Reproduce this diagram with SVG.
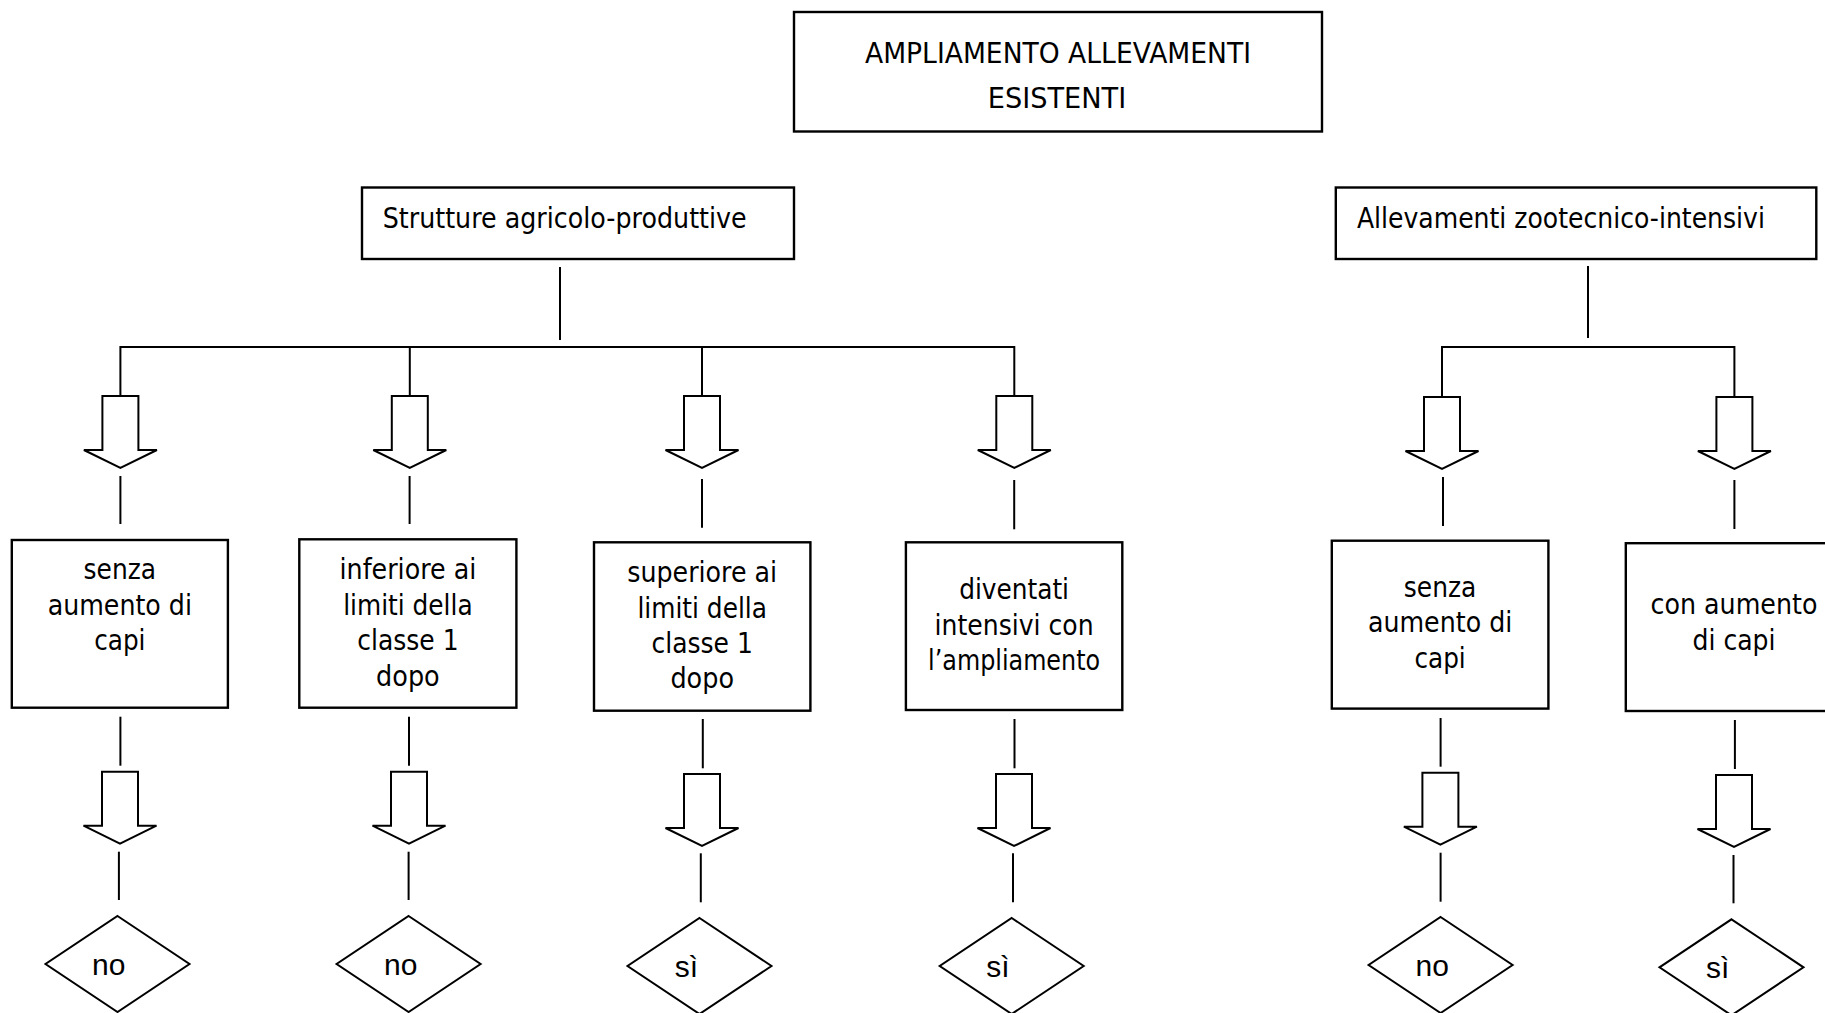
<svg xmlns="http://www.w3.org/2000/svg" xmlns:xlink="http://www.w3.org/1999/xlink" width="1825" height="1013" viewBox="0 0 1825 1013">
<style>
.box{fill:#fff;stroke:#000;stroke-width:2.4}
.ln{stroke:#000;stroke-width:2;fill:none}
.ar{fill:#fff;stroke:#000;stroke-width:2;stroke-linejoin:miter}
.dm{fill:#fff;stroke:#000;stroke-width:2}
.t{font-family:"DejaVu Sans","Liberation Sans",sans-serif;font-size:29px;fill:#000}
.c{text-anchor:middle}
.d{font-family:"Liberation Sans",Arial,sans-serif;font-size:30px;fill:#000}
</style>
<defs>
<path id="arrow" class="ar" d="M-18,0 H18 V54 H36.5 L0,72 L-36.5,54 H-18 Z"/>
<polygon id="diam" class="dm" points="0,-48 72,0 0,48 -72,0"/>
</defs>
<rect width="1825" height="1013" fill="#fff"/>

<g id="connectors">
<line class="ln" x1="560" y1="267" x2="560" y2="340"/>
<polyline class="ln" points="120.4,396 120.4,347 1014.3,347 1014.3,396"/>
<line class="ln" x1="409.8" y1="347" x2="409.8" y2="396"/>
<line class="ln" x1="702" y1="347" x2="702" y2="396"/>
<line class="ln" x1="1588" y1="266" x2="1588" y2="338"/>
<polyline class="ln" points="1442,397 1442,347 1734.4,347 1734.4,397"/>

<use xlink:href="#arrow" transform="translate(120.4,396)"/>
<use xlink:href="#arrow" transform="translate(409.8,396)"/>
<use xlink:href="#arrow" transform="translate(702,396)"/>
<use xlink:href="#arrow" transform="translate(1014.3,396)"/>
<use xlink:href="#arrow" transform="translate(1442,397)"/>
<use xlink:href="#arrow" transform="translate(1734.4,397)"/>

<line class="ln" x1="120.4" y1="476" x2="120.4" y2="524"/>
<line class="ln" x1="409.6" y1="476" x2="409.6" y2="524"/>
<line class="ln" x1="702" y1="479" x2="702" y2="527.7"/>
<line class="ln" x1="1014.2" y1="480" x2="1014.2" y2="529.3"/>
<line class="ln" x1="1443" y1="477" x2="1443" y2="526"/>
<line class="ln" x1="1734.4" y1="480" x2="1734.4" y2="529"/>

<line class="ln" x1="120.4" y1="716.7" x2="120.4" y2="765.7"/>
<line class="ln" x1="409" y1="716.7" x2="409" y2="765.7"/>
<line class="ln" x1="702.8" y1="719" x2="702.8" y2="768.3"/>
<line class="ln" x1="1014.5" y1="719" x2="1014.5" y2="768.3"/>
<line class="ln" x1="1440.6" y1="718" x2="1440.6" y2="766.7"/>
<line class="ln" x1="1734.9" y1="720" x2="1734.9" y2="769"/>

<use xlink:href="#arrow" transform="translate(120,771.7)"/>
<use xlink:href="#arrow" transform="translate(409,771.7)"/>
<use xlink:href="#arrow" transform="translate(702,774)"/>
<use xlink:href="#arrow" transform="translate(1014,774)"/>
<use xlink:href="#arrow" transform="translate(1440.4,772.7)"/>
<use xlink:href="#arrow" transform="translate(1734,775)"/>

<line class="ln" x1="118.9" y1="851.7" x2="118.9" y2="900"/>
<line class="ln" x1="408.6" y1="851.7" x2="408.6" y2="900"/>
<line class="ln" x1="700.8" y1="853.3" x2="700.8" y2="902.3"/>
<line class="ln" x1="1013" y1="853.3" x2="1013" y2="902.3"/>
<line class="ln" x1="1440.6" y1="852.7" x2="1440.6" y2="901.7"/>
<line class="ln" x1="1733.5" y1="855" x2="1733.5" y2="903.3"/>
</g>

<g id="title">
<rect class="box" x="794" y="12" width="528" height="119.5"/>
<text class="t c" x="1058" y="62.7" textLength="386" lengthAdjust="spacingAndGlyphs">AMPLIAMENTO ALLEVAMENTI</text>
<text class="t c" x="1057" y="108.3" textLength="138.5" lengthAdjust="spacingAndGlyphs">ESISTENTI</text>
</g>

<g id="strutture">
<rect class="box" x="362" y="187.5" width="432" height="71.5"/>
<text class="t" x="382.7" y="228.3" textLength="364" lengthAdjust="spacingAndGlyphs">Strutture agricolo-produttive</text>
</g>

<g id="allevamenti">
<rect class="box" x="1335.8" y="187.5" width="480.5" height="71.5"/>
<text class="t" x="1356.9" y="228.3" textLength="408" lengthAdjust="spacingAndGlyphs">Allevamenti zootecnico-intensivi</text>
</g>

<g id="box1">
<rect class="box" x="11.8" y="540" width="216.1" height="167.7"/>
<text class="t c" x="119.8" y="579.3" textLength="72.5" lengthAdjust="spacingAndGlyphs">senza</text>
<text class="t c" x="119.8" y="614.6" textLength="144.3" lengthAdjust="spacingAndGlyphs">aumento di</text>
<text class="t c" x="119.8" y="650.3" textLength="51.3" lengthAdjust="spacingAndGlyphs">capi</text>
</g>

<g id="box2">
<rect class="box" x="299.3" y="539.3" width="217.1" height="168.4"/>
<text class="t c" x="407.9" y="579.3" textLength="136.8" lengthAdjust="spacingAndGlyphs">inferiore ai</text>
<text class="t c" x="407.9" y="614.6" textLength="129.5" lengthAdjust="spacingAndGlyphs">limiti della</text>
<text class="t c" x="407.9" y="650.3" textLength="101.3" lengthAdjust="spacingAndGlyphs">classe 1</text>
<text class="t c" x="407.9" y="685.5" textLength="63.6" lengthAdjust="spacingAndGlyphs">dopo</text>
</g>

<g id="box3">
<rect class="box" x="594" y="542.3" width="216.4" height="168.4"/>
<text class="t c" x="702.2" y="582" textLength="149.9" lengthAdjust="spacingAndGlyphs">superiore ai</text>
<text class="t c" x="702.2" y="618" textLength="129.5" lengthAdjust="spacingAndGlyphs">limiti della</text>
<text class="t c" x="702.2" y="653" textLength="101.3" lengthAdjust="spacingAndGlyphs">classe 1</text>
<text class="t c" x="702.2" y="688" textLength="63.6" lengthAdjust="spacingAndGlyphs">dopo</text>
</g>

<g id="box4">
<rect class="box" x="905.9" y="542.3" width="216.4" height="167.7"/>
<text class="t c" x="1014.1" y="599.3" textLength="109.8" lengthAdjust="spacingAndGlyphs">diventati</text>
<text class="t c" x="1014.1" y="634.6" textLength="159" lengthAdjust="spacingAndGlyphs">intensivi con</text>
<text class="t c" x="1014.1" y="669.6" textLength="172" lengthAdjust="spacingAndGlyphs">l’ampliamento</text>
</g>

<g id="box5">
<rect class="box" x="1331.8" y="540.7" width="216.6" height="167.9"/>
<text class="t c" x="1440.1" y="596.5" textLength="72.5" lengthAdjust="spacingAndGlyphs">senza</text>
<text class="t c" x="1440.1" y="631.5" textLength="144.3" lengthAdjust="spacingAndGlyphs">aumento di</text>
<text class="t c" x="1440.1" y="668" textLength="51.3" lengthAdjust="spacingAndGlyphs">capi</text>
</g>

<g id="box6">
<rect class="box" x="1625.8" y="543.2" width="216.4" height="167.8"/>
<text class="t c" x="1734" y="614.3" textLength="167" lengthAdjust="spacingAndGlyphs">con aumento</text>
<text class="t c" x="1734" y="650" textLength="83" lengthAdjust="spacingAndGlyphs">di capi</text>
</g>

<g id="d1"><use xlink:href="#diam" transform="translate(117.5,964)"/><text class="d" x="92" y="975">no</text></g>
<g id="d2"><use xlink:href="#diam" transform="translate(408.6,964)"/><text class="d" x="384" y="975">no</text></g>
<g id="d3"><use xlink:href="#diam" transform="translate(699.5,966)"/><text class="d" x="674.7" y="977">sì</text></g>
<g id="d4"><use xlink:href="#diam" transform="translate(1011.7,966)"/><text class="d" x="986.2" y="977">sì</text></g>
<g id="d5"><use xlink:href="#diam" transform="translate(1440.6,965)"/><text class="d" x="1415.5" y="976">no</text></g>
<g id="d6"><use xlink:href="#diam" transform="translate(1731.5,967.3)"/><text class="d" x="1706" y="978">sì</text></g>
</svg>
